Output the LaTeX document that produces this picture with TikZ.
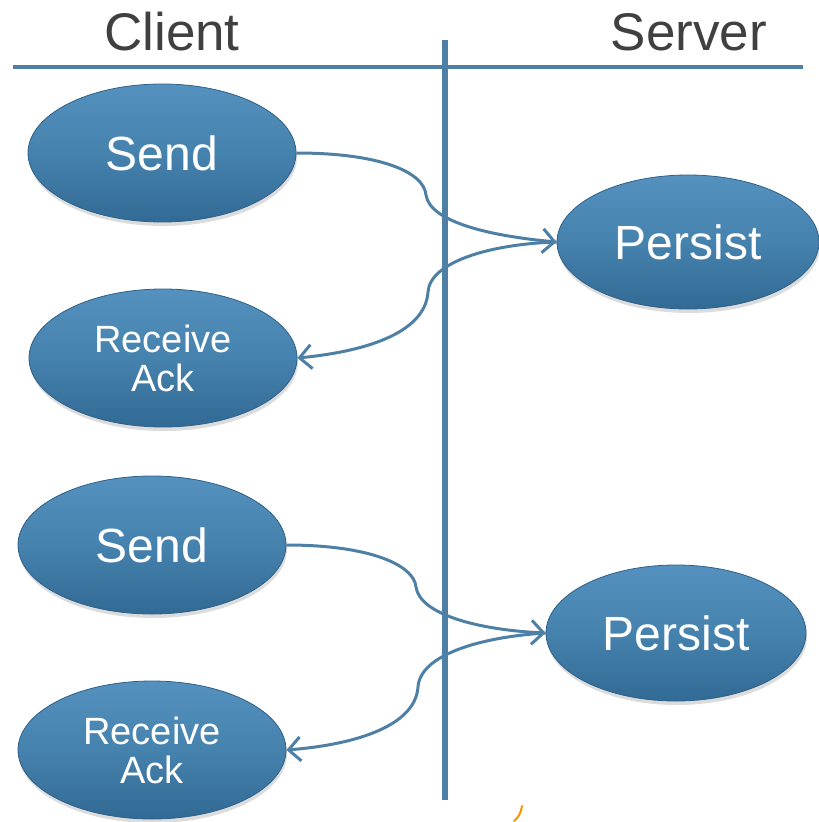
\documentclass[tikz,border=0pt]{standalone}
\usepackage{fontspec}
\setmainfont{Liberation Sans}
\usetikzlibrary{arrows.meta,shadows,shapes.geometric}
\definecolor{lane}{HTML}{4E80A6}
\definecolor{stepTop}{HTML}{5591BE}
\definecolor{stepMid}{HTML}{4682AE}
\definecolor{stepBot}{HTML}{316A94}
\definecolor{stepRim}{HTML}{2F6088}
\definecolor{headgray}{HTML}{404040}
\begin{document}
\begin{tikzpicture}[x=1pt,y=-1pt,
  stepbox/.style={ellipse, inner sep=0pt, minimum width=268pt, minimum height=138pt,
    top color=stepTop, bottom color=stepBot, middle color=stepMid,
    draw=stepRim, line width=0.8pt, text=white,
    drop shadow={opacity=0.28, shadow xshift=1pt, shadow yshift=-4pt},
    font=\fontsize{48}{50}\selectfont},
  twoline/.style={align=center, font=\fontsize{38}{39}\selectfont},
  lanebar/.style={draw=lane, line width=4.5pt},
  flow/.style={draw=lane, line width=3pt,
    -{Straight Barb[length=12pt,width=24pt,line width=3pt]}},
  heading/.style={text=headgray, font=\fontsize{53}{56}\selectfont, inner sep=0pt}]
\useasboundingbox (0,0) rectangle (819,822);

% swim-lane headings and dividers
\node[heading] (client) at (172,32) {Client};
\node[heading] (server) at (689,32) {Server};
\coordinate (hl) at (13,67);
\coordinate (hr) at (803,67);
\coordinate (vt) at (445,40);
\coordinate (vb) at (445,800);
\draw[lanebar, line width=4.5pt] (hl) -- (hr);
\draw[lanebar, line width=5.5pt] (vt) -- (vb);

% client and server steps
\node[stepbox] (send1) at (162,153) {Send};
\node[stepbox, minimum width=262pt, minimum height=134pt] (persist1) at (688,242) {Persist};
\node[stepbox, twoline] (ack1) at (163,358) {Receive\\Ack};
\node[stepbox] (send2) at (152,545) {Send};
\node[stepbox, minimum width=260pt, minimum height=136pt] (persist2) at (676,633) {Persist};
\node[stepbox, twoline] (ack2) at (152,750) {Receive\\Ack};

% first exchange
\draw[flow] (send1.east) .. controls (380,153) and (424,172) .. (426,195)
  .. controls (430,222) and (490,236) .. (persist1.west);
\draw[flow] (persist1.west) .. controls (490,244) and (430,262) .. (428,292)
  .. controls (425,335) and (360,352) .. (ack1.east);

% second exchange
\draw[flow] (send2.east) .. controls (370,545) and (414,565) .. (416,587)
  .. controls (420,615) and (480,630) .. (persist2.west);
\draw[flow] (persist2.west) .. controls (480,637) and (420,655) .. (418,687)
  .. controls (415,728) and (350,745) .. (ack2.east);

% small orange stroke at the lower edge
\draw[draw=orange!85!yellow, line width=2pt, line cap=round]
  (522,806) .. controls (521,813) and (518,818) .. (514,821);
\end{tikzpicture}
\end{document}
